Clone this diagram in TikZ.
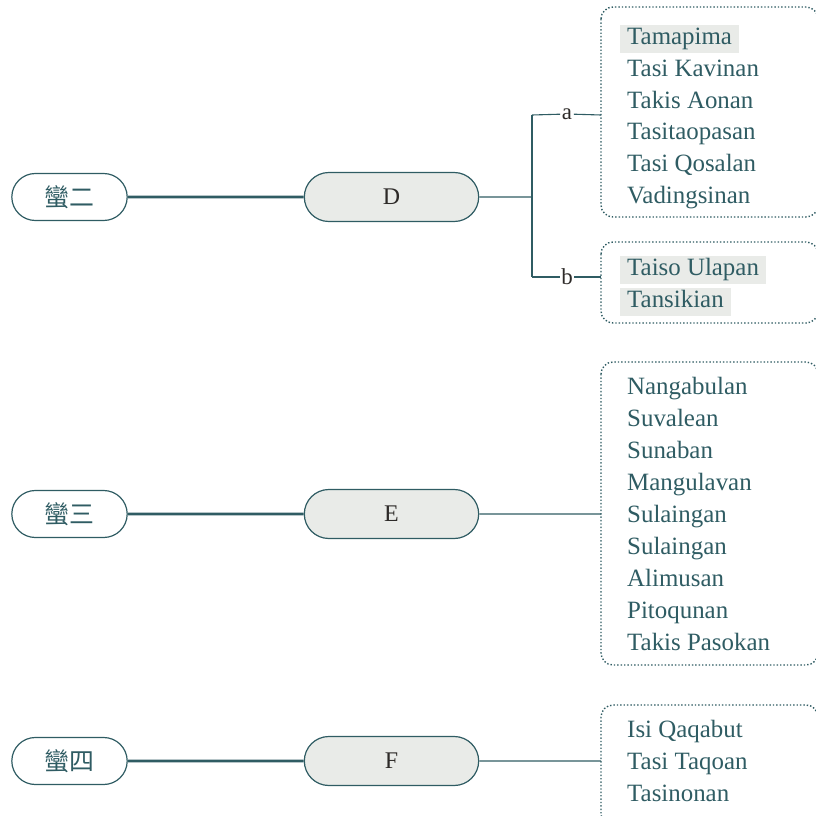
\documentclass[tikz,border=0pt]{standalone}
\usepackage{fontspec}
\setmainfont{Liberation Serif}
\newfontfamily\cjk{Noto Sans CJK TC}
\usetikzlibrary{shapes.misc}
\definecolor{deepteal}{RGB}{47,92,99}
\definecolor{palegrey}{RGB}{233,235,232}
\definecolor{inkgrey}{RGB}{45,42,40}
\tikzset{
  root/.style={rounded rectangle, draw=deepteal, line width=1.2bp, fill=white,
    minimum width=122bp, minimum height=47bp, text=deepteal,
    font=\cjk\fontsize{25}{25}\selectfont},
  mid/.style={rounded rectangle, draw=deepteal, line width=1.2bp, fill=palegrey,
    minimum width=181bp, minimum height=49bp, text=inkgrey,
    font=\fontsize{24}{24}\selectfont},
  leaf/.style={anchor=west, inner xsep=7bp, inner ysep=3bp, text=deepteal,
    text height=16.5bp, text depth=5.5bp, font=\fontsize{25}{25}\selectfont},
  hl/.style={leaf, fill=palegrey},
  tag/.style={inner sep=1.5bp, text=inkgrey, font=\fontsize{23}{23}\selectfont},
  trunk/.style={draw=deepteal, line width=2.6bp},
  twig/.style={draw=deepteal, line width=1.1bp},
  listbox/.style={draw=deepteal, line width=1.4bp, dotted, rounded corners=12bp}
}

\begin{document}
\begin{tikzpicture}[x=1bp, y=-1bp]
            \useasboundingbox (0,0) rectangle (816,816);
            % left column
            \node[root] (r2) at (69.5,197) {蠻二};
            \node[root] (r3) at (69.5,514) {蠻三};
            \node[root] (r4) at (69.5,761) {蠻四};
            \node[mid] (D) at (391.5,197) {D};
            \node[mid] (E) at (391.5,514) {E};
            \node[mid] (F) at (391.5,761) {F};
            \draw[trunk] (r2) -- (D);
            \draw[trunk] (r3) -- (E);
            \draw[trunk] (r4) -- (F);
            % branch of D
            \coordinate (fork) at (532,197);
            \coordinate (fa) at (532,115);
            \coordinate (fb) at (532,277);
            \coordinate (ba) at (601,115);
            \coordinate (bb) at (601,277);
            \node[tag] (la) at (567,114) {a};
            \node[tag] (lb) at (567,277) {b};
            \draw[twig] (D) -- (fork);
            \draw[twig] (fa) -- (fb);
            \draw[twig] (fa) -- (la) -- (ba);
            \draw[twig] (fb) -- (lb) -- (bb);
            \draw[listbox] (601,7) rectangle (818,217);
            \draw[listbox] (601,242) rectangle (818,323);
            \node[hl] (a1) at (620,39) {Tamapima\ };
            \foreach \t [count=\i from 2] in {Tasi Kavinan,Takis Aonan,Tasitaopasan,Tasi Qosalan,Vadingsinan}
                \node[leaf] (a\i) at (620,39+31.8*\i-31.8) {\t};
            \node[hl] (b1) at (620,270) {Taiso Ulapan\ };
            \node[hl] (b2) at (620,302) {Tansikian\ };
            % branch of E
            \coordinate (be) at (601,514);
            \draw[twig] (E) -- (be);
            \draw[listbox] (601,362) rectangle (818,665);
            \foreach \t [count=\i from 0] in {Nangabulan,Suvalean,Sunaban,Mangulavan,Sulaingan,Sulaingan,Alimusan,Pitoqunan,Takis Pasokan}
                \node[leaf] (e\i) at (620,389+32*\i) {\t};
            % branch of F
            \coordinate (bf) at (601,761);
            \draw[twig] (F) -- (bf);
            \draw[listbox] (601,705) rectangle (818,826);
            \foreach \t [count=\i from 0] in {Isi Qaqabut,Tasi Taqoan,Tasinonan}
                \node[leaf] (f\i) at (620,732+32*\i) {\t};
        \end{tikzpicture}
\end{document}
